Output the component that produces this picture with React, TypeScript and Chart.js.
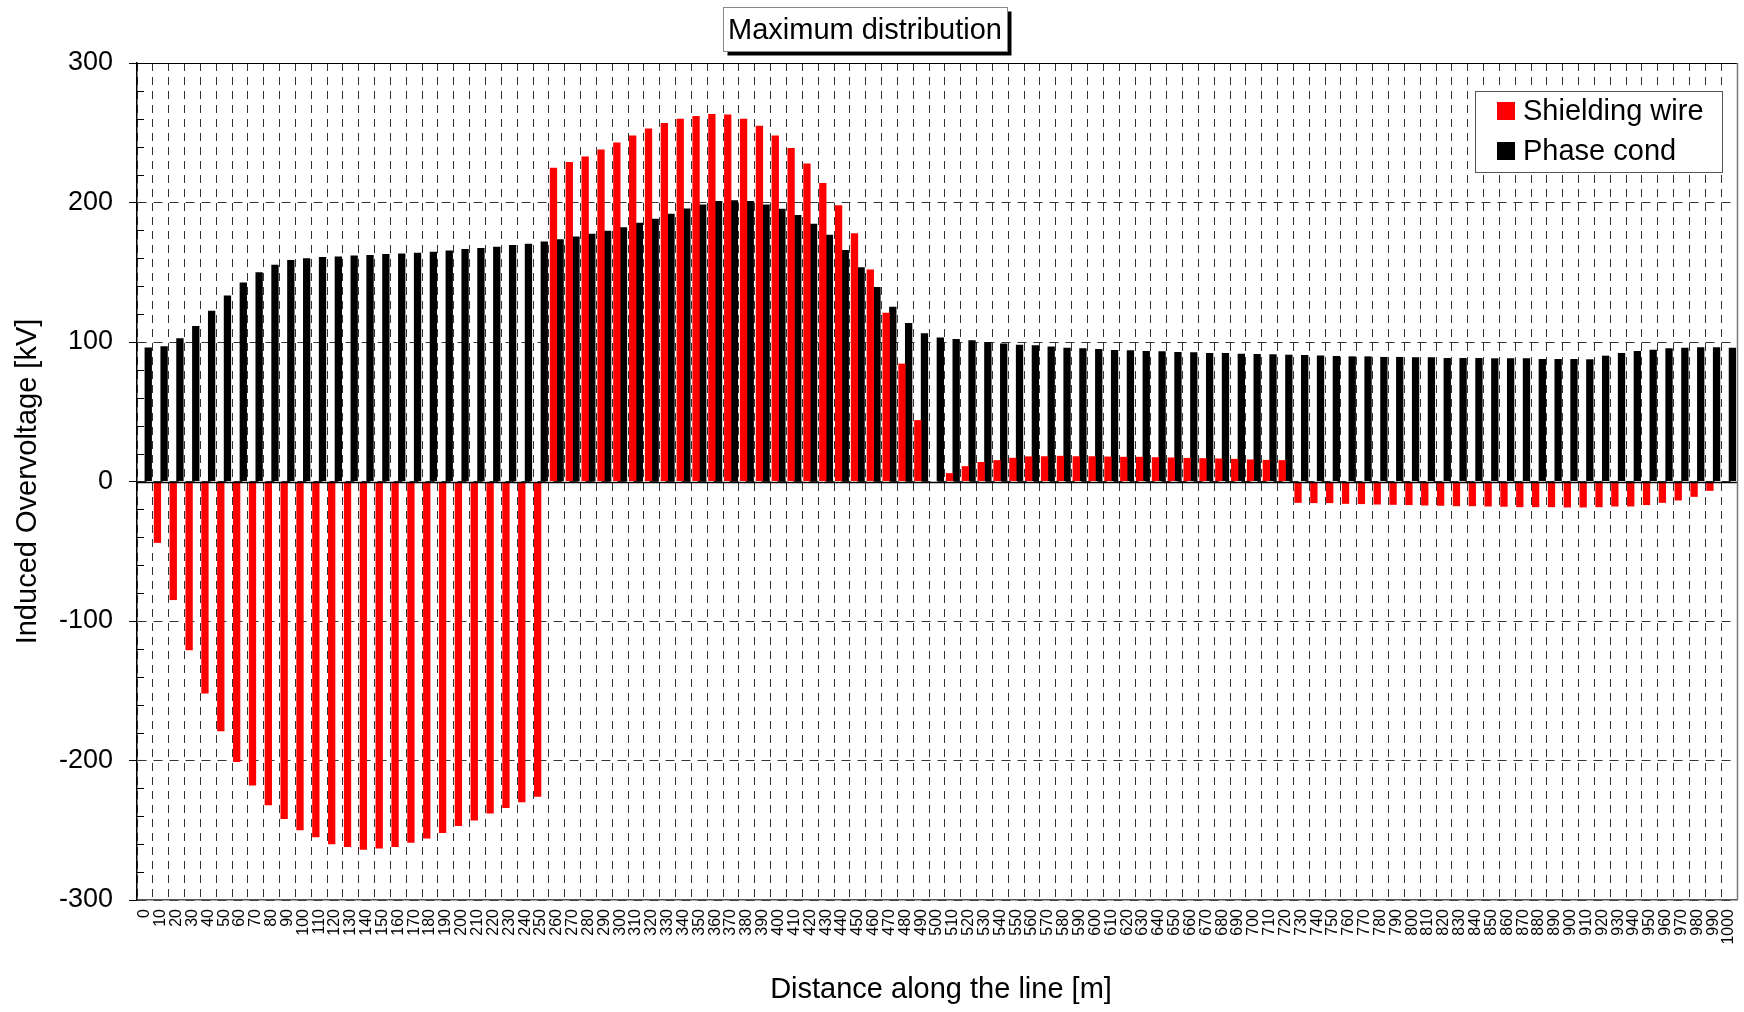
import React, { useEffect, useRef } from 'react';
import { Chart, registerables } from 'chart.js';

Chart.register(...registerables);

const FONT = "'Liberation Sans', Arial, Helvetica, sans-serif";

const CHART_TITLE = 'Maximum distribution';
const X_TITLE = 'Distance along the line [m]';
const Y_TITLE = 'Induced Overvoltage [kV]';
const SHIELD_LABEL = 'Shielding wire';
const PHASE_LABEL = 'Phase cond';

const distances = [
  0, 10, 20, 30, 40, 50, 60, 70, 80, 90,
  100, 110, 120, 130, 140, 150, 160, 170, 180, 190,
  200, 210, 220, 230, 240, 250, 260, 270, 280, 290,
  300, 310, 320, 330, 340, 350, 360, 370, 380, 390,
  400, 410, 420, 430, 440, 450, 460, 470, 480, 490,
  500, 510, 520, 530, 540, 550, 560, 570, 580, 590,
  600, 610, 620, 630, 640, 650, 660, 670, 680, 690,
  700, 710, 720, 730, 740, 750, 760, 770, 780, 790,
  800, 810, 820, 830, 840, 850, 860, 870, 880, 890,
  900, 910, 920, 930, 940, 950, 960, 970, 980, 990,
  1000,
];

const shieldingWire = [
  -1, -44, -85, -121, -152, -179, -201, -218, -232, -242,
  -250, -255, -260, -262, -264, -263, -262, -259, -256, -252,
  -247, -243, -238, -234, -230, -226, 225, 229, 233, 238,
  243, 248, 253, 257, 260, 262, 263.5, 263, 260, 255,
  248, 239, 228, 214, 198, 178, 152, 121, 84.5, 44,
  0, 6, 11, 14, 15.3, 17, 18, 18.1, 18.4, 18.1,
  18.1, 17.9, 17.7, 17.7, 17.4, 17.2, 16.9, 16.7, 16.5, 16.2,
  15.8, 15.5, 15.3, -15.3, -15.5, -15.5, -16, -16.2, -16.5, -16.7,
  -16.9, -17.2, -17.4, -17.7, -17.7, -17.9, -18.1, -18.4, -18.4, -18.4,
  -18.6, -18.6, -18.4, -17.9, -17.9, -16.9, -15.3, -13.6, -11, -6.7,
  -1,
];

const phaseCond = [
  96, 97, 102.6, 111.5, 122.4, 133.4, 142.7, 150, 155.4, 158.7,
  160, 161, 161.3, 162, 162.3, 163, 163.5, 164, 164.7, 165.6,
  166.6, 167.3, 168.3, 169.5, 170.5, 172, 173.7, 175.7, 177.6, 179.7,
  182.3, 185.4, 188.3, 192, 195.7, 198.6, 201, 201.7, 201, 198.6,
  195.5, 191, 184.7, 176.8, 166, 153.5, 139.4, 125.3, 113.6, 106.2,
  103.3, 102.1, 101.2, 100, 99, 98.1, 97.6, 96.7, 95.9, 95.5,
  95, 94.3, 94, 93.6, 93.3, 92.8, 92.6, 92.1, 92.1, 91.6,
  91.4, 91.2, 90.9, 90.7, 90.4, 90, 89.7, 89.7, 89.3, 89.3,
  89, 89, 88.5, 88.5, 88.5, 88.3, 88.3, 88.3, 87.8, 87.8,
  87.8, 87.6, 90.2, 92.1, 93.6, 94.5, 95.5, 95.9, 96.2, 96.2,
  95.9,
];

const Y_MIN = -300;
const Y_MAX = 300;
const Y_STEP = 100;
const Y_MINOR_STEP = 20;

const decorPlugin = {
  id: 'decor',
  beforeDraw(chart: any) {
    const { ctx, width, height } = chart;
    ctx.save();
    ctx.fillStyle = '#ffffff';
    ctx.fillRect(0, 0, width, height);
    ctx.restore();
  },
  afterDatasetsDraw(chart: any) {
    const { ctx, chartArea: a, scales } = chart;
    const y = scales.y;
    ctx.save();
    const y0 = Math.round(y.getPixelForValue(0)) + 0.5;
    ctx.strokeStyle = '#000';
    ctx.lineWidth = 1.5;
    ctx.beginPath();
    ctx.moveTo(a.left, y0);
    ctx.lineTo(a.right, y0);
    ctx.stroke();
    ctx.lineWidth = 1;
    ctx.strokeStyle = '#000';
    for (let v = Y_MIN; v <= Y_MAX; v += Y_MINOR_STEP) {
      if (v % Y_STEP === 0) continue;
      const py = Math.round(y.getPixelForValue(v)) + 0.5;
      ctx.beginPath();
      ctx.moveTo(a.left, py);
      ctx.lineTo(a.left + 7, py);
      ctx.stroke();
    }
    ctx.strokeStyle = '#000';
    ctx.beginPath();
    ctx.moveTo(a.left, Math.round(a.top) + 0.5);
    ctx.lineTo(a.right, Math.round(a.top) + 0.5);
    ctx.stroke();
    ctx.strokeStyle = '#777';
    ctx.lineWidth = 1.5;
    ctx.beginPath();
    ctx.moveTo(Math.round(a.right) + 0.5, a.top);
    ctx.lineTo(Math.round(a.right) + 0.5, a.bottom);
    ctx.stroke();
    ctx.restore();
  },
  afterDraw(chart: any) {
    const { ctx, chartArea: a } = chart;
    ctx.save();
    ctx.font = `29px ${FONT}`;
    const tw = ctx.measureText(CHART_TITLE).width;
    const bw = tw + 10;
    const bh = 44;
    const cx = 865;
    const bx = Math.round(cx - bw / 2) + 0.5;
    const by = 7.5;
    ctx.fillStyle = '#000';
    ctx.fillRect(bx + 4, by + 4, bw, bh);
    ctx.fillStyle = '#fff';
    ctx.fillRect(bx, by, bw, bh);
    ctx.strokeStyle = '#888';
    ctx.lineWidth = 1;
    ctx.strokeRect(bx, by, bw, bh);
    ctx.fillStyle = '#000';
    ctx.textAlign = 'center';
    ctx.textBaseline = 'middle';
    ctx.fillText(CHART_TITLE, cx, by + bh / 2 + 1);

    const lx = 1475.5;
    const ly = 91.5;
    const lw = 247;
    const lh = 81;
    ctx.fillStyle = '#fff';
    ctx.fillRect(lx, ly, lw, lh);
    ctx.strokeStyle = '#555';
    ctx.lineWidth = 1;
    ctx.strokeRect(lx, ly, lw, lh);
    ctx.font = `29px ${FONT}`;
    ctx.textAlign = 'left';
    ctx.textBaseline = 'middle';
    chart.data.datasets.forEach((ds: any, i: number) => {
      const rowY = 111 + i * 40;
      ctx.fillStyle = ds.backgroundColor;
      ctx.fillRect(1497, rowY - 9, 18, 18);
      ctx.fillStyle = '#000';
      ctx.fillText(ds.label, 1523, rowY + 1);
    });

    ctx.font = `29px ${FONT}`;
    ctx.textAlign = 'center';
    ctx.textBaseline = 'middle';
    ctx.fillStyle = '#000';
    ctx.fillText(X_TITLE, (a.left + a.right) / 2 + 4, 990);
    ctx.translate(28, (a.top + a.bottom) / 2);
    ctx.rotate(-Math.PI / 2);
    ctx.fillText(Y_TITLE, 0, 0);
    ctx.restore();
  },
};

export default function App() {
  const ref = useRef<HTMLCanvasElement | null>(null);

  useEffect(() => {
    if (!ref.current) return;
    const chart = new Chart(ref.current, {
      type: 'bar',
      data: {
        labels: distances.map((d) => String(d)),
        datasets: [
          {
            label: SHIELD_LABEL,
            data: shieldingWire,
            backgroundColor: '#ff0000',
            borderWidth: 0,
            categoryPercentage: 0.84,
            barPercentage: 1.1,
          },
          {
            label: PHASE_LABEL,
            data: phaseCond,
            backgroundColor: '#000000',
            borderWidth: 0,
            categoryPercentage: 0.84,
            barPercentage: 1.1,
          },
        ],
      },
      options: {
        responsive: false,
        animation: false,
        events: [],
        layout: { padding: { left: 0, right: 7, top: 63, bottom: 0 } },
        plugins: {
          legend: { display: false },
          title: { display: false },
          tooltip: { enabled: false },
        },
        scales: {
          x: {
            offset: true,
            grid: {
              display: true,
              offset: true,
              color: '#333',
              lineWidth: 1,
              drawTicks: false,
            },
            border: { display: true, color: '#555', width: 1.5, dash: [8, 6] },
            ticks: {
              autoSkip: false,
              maxRotation: 90,
              minRotation: 90,
              padding: 9,
              color: '#000',
              font: { family: FONT, size: 16 },
            },
            afterFit: (scale: any) => {
              scale.height = 112;
              scale.paddingLeft = 0;
              scale.paddingRight = 0;
            },
          },
          y: {
            min: Y_MIN,
            max: Y_MAX,
            grid: {
              color: '#333',
              lineWidth: 1,
              drawTicks: true,
              tickLength: 8,
              tickColor: '#000',
              tickBorderDash: [],
            },
            border: { display: true, color: '#000', width: 1.5, dash: [9, 7] },
            ticks: {
              stepSize: Y_STEP,
              padding: 16,
              color: '#000',
              font: { family: FONT, size: 27 },
              callback: (v: any) => String(v),
            },
            afterFit: (scale: any) => {
              scale.width = 137;
              scale.paddingTop = 0;
              scale.paddingBottom = 0;
            },
          },
        },
      },
      plugins: [decorPlugin],
    });
    return () => chart.destroy();
  }, []);

  return (
    <div style={{ position: 'absolute', left: 0, top: 0, width: 1744, height: 1012, background: '#fff' }}>
      <canvas ref={ref} width={1744} height={1012} style={{ width: 1744, height: 1012, display: 'block' }} />
    </div>
  );
}
